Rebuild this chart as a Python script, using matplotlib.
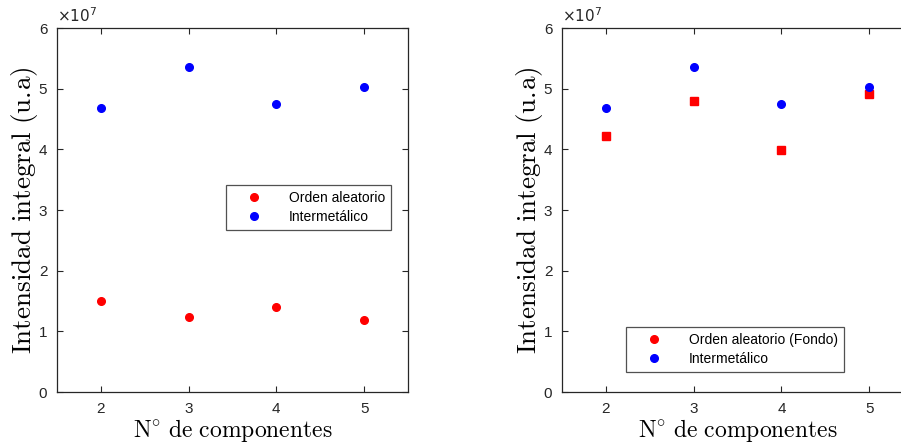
import matplotlib
matplotlib.use("Agg")
import matplotlib.pyplot as plt
from matplotlib.lines import Line2D
from matplotlib.ticker import FuncFormatter, FixedLocator

plt.rcParams['font.family'] = ['Liberation Sans', 'DejaVu Sans']
plt.rcParams['mathtext.fontset'] = 'cm'

componentes = [2, 3, 4, 5]
intermetalico = [4.686e7, 5.352e7, 4.752e7, 5.022e7]
orden_aleatorio = [1.505e7, 1.236e7, 1.406e7, 1.192e7]
orden_fondo = [4.225e7, 4.79e7, 3.994e7, 4.907e7]

x_ticks = [2, 3, 4, 5]
y_ticks = [0, 1e7, 2e7, 3e7, 4e7, 5e7, 6e7]

W, H = 901, 445
fig = plt.figure(figsize=(W / 100, H / 100), dpi=100)

axis_col = '#262626'
red = '#ff0000'
blue = '#0000ff'


def make_axes(left_px):
    ax = fig.add_axes([left_px / W, (H - 392) / H, 351 / W, 364 / H])
    ax.set_xlim(1.5, 5.5)
    ax.set_ylim(0, 6e7)
    ax.xaxis.set_major_locator(FixedLocator(x_ticks))
    ax.yaxis.set_major_locator(FixedLocator(y_ticks))
    ax.yaxis.set_major_formatter(FuncFormatter(lambda v, p: f"{v / 1e7:g}"))
    ax.tick_params(direction='in', top=True, right=True, length=4,
                   width=0.8, color=axis_col, labelcolor=axis_col,
                   labelsize=11, pad=7)
    for s in ax.spines.values():
        s.set_color(axis_col)
        s.set_linewidth(0.9)
    ax.text(0.0, 1.008, r'$\times10^{7}$', transform=ax.transAxes,
            ha='left', va='bottom', fontsize=11, color=axis_col,
            math_fontfamily='dejavusans')
    ax.set_xlabel(r'$\mathrm{N^{\circ}\ de\ componentes}$', fontsize=17,
                  labelpad=1)
    ax.set_ylabel(r'$\mathrm{Intensidad\ integral\ (u.\!a)}$', fontsize=19.5,
                  labelpad=-1)
    return ax


# Left panel: random-order vs intermetallic intensity
ax1 = make_axes(57)
ax1.plot(componentes, orden_aleatorio, 'o', color=red, ms=5.5, mec=red,
         label='Orden aleatorio')
ax1.plot(componentes, intermetalico, 'o', color=blue, ms=5.5, mec=blue,
         label='Intermetálico')
leg1 = ax1.legend(loc='upper left', bbox_to_anchor=((225.7 - 57) / 351, 1 - (185 - 28) / 364),
                  fontsize=10, frameon=True, fancybox=False, edgecolor=axis_col,
                  borderpad=0.45, handlelength=3.2, handletextpad=0.9,
                  labelspacing=0.35, borderaxespad=0)
leg1.get_frame().set_linewidth(0.9)

# Right panel: background random-order vs intermetallic intensity
ax2 = make_axes(562)
ax2.plot(componentes, orden_fondo, 's', color=red, ms=5.5, mec=red)
ax2.plot(componentes, intermetalico, 'o', color=blue, ms=5.5, mec=blue)
handles = [
    Line2D([], [], ls='none', marker='o', color=red, ms=5.5),
    Line2D([], [], ls='none', marker='o', color=blue, ms=5.5),
]
leg2 = ax2.legend(handles, ['Orden aleatorio (Fondo)', 'Intermetálico'],
                  loc='upper left', bbox_to_anchor=((626 - 562) / 351, 1 - (327 - 28) / 364),
                  fontsize=10, frameon=True, fancybox=False, edgecolor=axis_col,
                  borderpad=0.45, handlelength=3.2, handletextpad=0.9,
                  labelspacing=0.35, borderaxespad=0)
leg2.get_frame().set_linewidth(0.9)

fig.savefig('out.png', dpi=100)
